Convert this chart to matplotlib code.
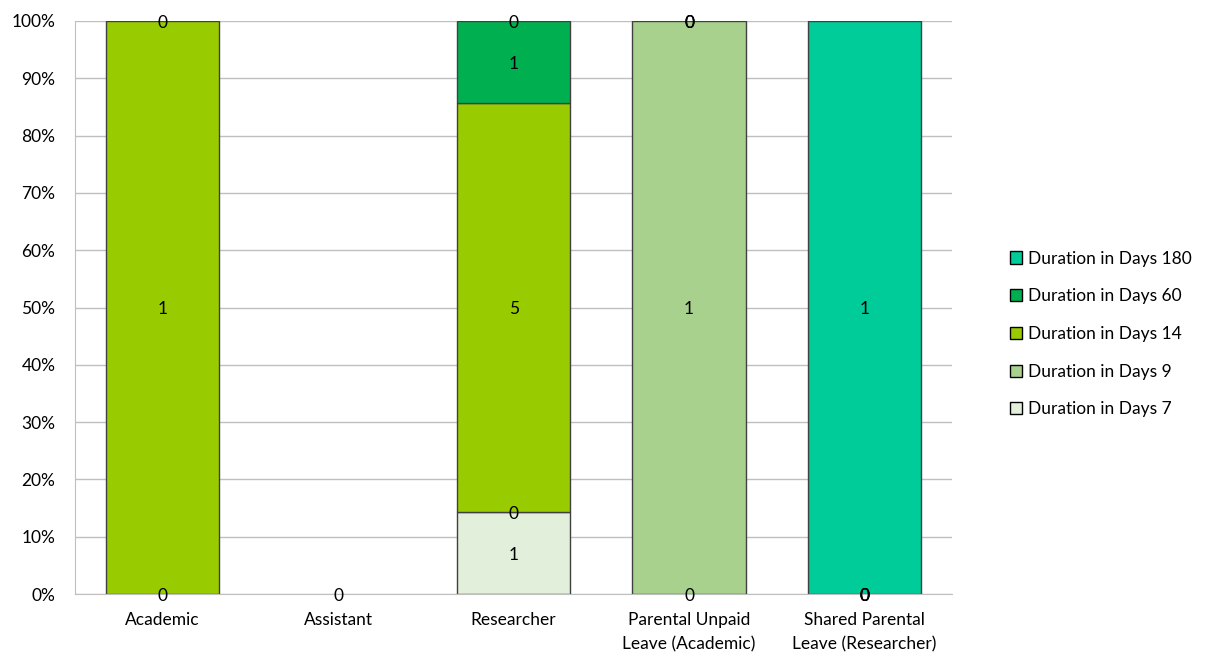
import numpy as np
from matplotlib import pyplot as plt

# leave types and their counts per duration (nan = no entry)
categories = ['Academic', 'Assistant', 'Researcher',
              'Parental Unpaid\nLeave (Academic)', 'Shared Parental\nLeave (Researcher)']
series = ['Duration in Days 7', 'Duration in Days 9', 'Duration in Days 14',
          'Duration in Days 60', 'Duration in Days 180']
days_7 = [np.nan, 0, 1, 0, 0]
days_9 = [0, np.nan, 0, 1, 0]
days_14 = [1, np.nan, 5, 0, 0]
days_60 = [0, np.nan, 1, 0, 0]
days_180 = [np.nan, np.nan, 0, 0, 1]
colors = ['#E2EFDA', '#A9D18E', '#99CC00', '#00B050', '#00CC99']

plt.rcParams['font.family'] = ['Lato', 'DejaVu Sans']

data = np.array([days_7, days_9, days_14, days_60, days_180], dtype=float)
totals = np.nansum(data, axis=0)
pct = np.where(totals > 0, np.nan_to_num(data) / np.where(totals > 0, totals, 1) * 100, 0)

fig = plt.figure(figsize=(12.07, 6.55), dpi=100)
ax = fig.add_axes([0.062, 0.093, 0.727, 0.875])
x = np.arange(len(categories))
bottom = np.zeros(len(categories))
handles = []
for i in range(len(series)):
    lw = np.where(pct[i] > 0, 1.0, 0.0)
    h = ax.bar(x, pct[i], 0.645, bottom=bottom, color=colors[i],
               edgecolor='#404040', linewidth=lw, label=series[i], zorder=2)
    handles.append(h)
    for j in range(len(categories)):
        if np.isnan(data[i, j]):
            continue
        ax.text(x[j], bottom[j] + pct[i, j] / 2 - 0.3, '%d' % data[i, j],
                ha='center', va='center', fontsize=12.5, zorder=3)
    bottom += pct[i]

ax.set_xlim(-0.5, len(categories) - 0.5)
ax.set_ylim(0, 100)
ax.set_yticks(np.arange(0, 101, 10))
ax.set_yticklabels(['%d%%' % v for v in range(0, 101, 10)], fontsize=12.5)
ax.set_xticks(x)
ax.set_xticklabels(categories, fontsize=12.5, linespacing=1.6)
ax.tick_params(length=0)
ax.tick_params(axis='x', pad=13)
ax.tick_params(axis='y', pad=14)
ax.yaxis.grid(True, color='#BFBFBF', linewidth=1, zorder=0)
ax.set_axisbelow(True)
for s in ['top', 'right']:
    ax.spines[s].set_visible(False)
for s in ['left', 'bottom']:
    ax.spines[s].set_color('#BFBFBF')

leg_handles = [plt.Rectangle((0, 0), 1, 1, facecolor=c, edgecolor='black', linewidth=1)
               for c in colors[::-1]]
fig.legend(leg_handles, series[::-1], loc='center left', bbox_to_anchor=(0.824, 0.49),
           frameon=False, fontsize=12.5, handlelength=0.7, handleheight=0.7,
           handletextpad=0.3, labelspacing=1.25)

fig.savefig('out.png', dpi=100)
